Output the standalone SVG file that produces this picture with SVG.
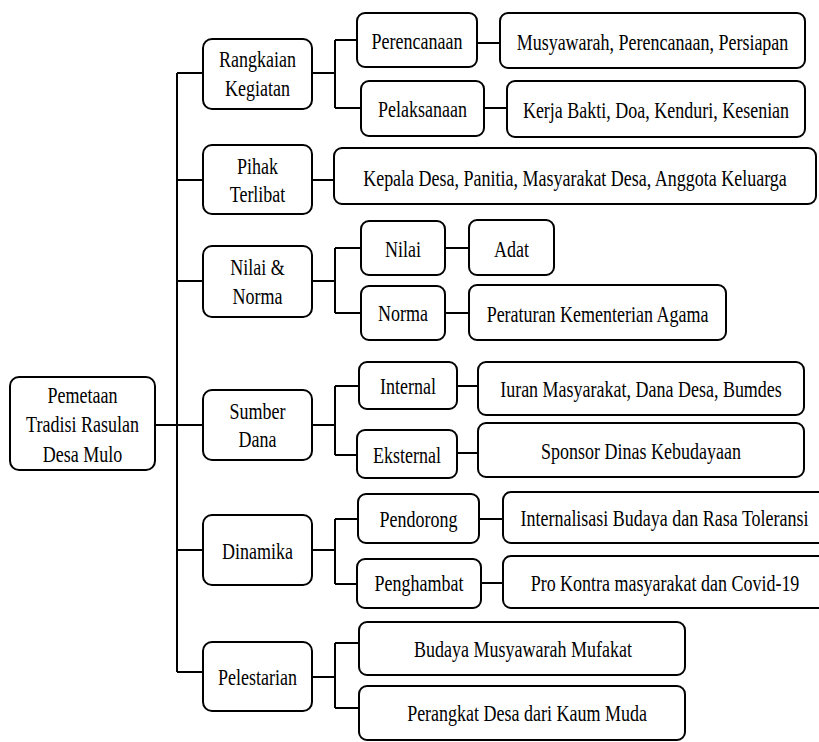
<svg xmlns="http://www.w3.org/2000/svg" width="819" height="742" viewBox="0 0 819 742">
<style>
.b{fill:#fff;stroke:#000;stroke-width:2}
.c{fill:none;stroke:#000;stroke-width:2}
text{font-family:'Liberation Serif','DejaVu Serif',serif;font-size:18px;fill:#000;text-anchor:middle}
</style>
<rect width="819" height="742" fill="#fff"/>
<g id="connectors" class="c">
<path d="M155,425 H203 M177,73 V672 M177,73 H203 M177,180 H203 M177,281 H203 M177,550 H203 M177,672 H203"/>
<path d="M312,73 H335 M335,40 V108 M335,40 H357 M335,108 H361 M477,43 H500 M484,108 H507"/>
<path d="M312,180 H334"/>
<path d="M312,281 H335 M335,248 V313 M335,248 H361 M335,313 H361 M445,248 H469 M445,313 H469"/>
<path d="M312,425 H335 M335,386 V455 M335,386 H359 M335,455 H357 M457,386 H478 M457,453 H478"/>
<path d="M312,550 H335 M335,519 V584 M335,519 H358 M335,584 H357 M479,519 H503 M481,583 H503"/>
<path d="M312,677 H335 M335,643 V708 M335,643 H359 M335,708 H359"/>
</g>
<g font-family="Liberation Serif">
<g id="root"><rect class="b" x="10" y="377" width="145" height="93" rx="9"/><text transform="translate(82.5,403) scale(1,1.3)"><tspan x="0">Pemetaan</tspan><tspan x="0" dy="22.7">Tradisi Rasulan</tspan><tspan x="0" dy="22.7">Desa Mulo</tspan></text></g>
<g id="rangkaian"><rect class="b" x="203" y="39" width="109" height="70" rx="9"/><text transform="translate(257.5,67.3) scale(1,1.3)"><tspan x="0">Rangkaian</tspan><tspan x="0" dy="21.8">Kegiatan</tspan></text></g>
<g id="pihak"><rect class="b" x="203" y="145" width="109" height="69" rx="9"/><text transform="translate(257.5,174) scale(1,1.3)"><tspan x="0">Pihak</tspan><tspan x="0" dy="21.8">Terlibat</tspan></text></g>
<g id="nilainorma"><rect class="b" x="203" y="246" width="109" height="71" rx="9"/><text transform="translate(257.5,275) scale(1,1.3)"><tspan x="0">Nilai &amp;</tspan><tspan x="0" dy="22.3">Norma</tspan></text></g>
<g id="sumber"><rect class="b" x="203" y="390" width="109" height="70" rx="9"/><text transform="translate(257.5,418.5) scale(1,1.3)"><tspan x="0">Sumber</tspan><tspan x="0" dy="22.3">Dana</tspan></text></g>
<g id="dinamika"><rect class="b" x="203" y="515" width="109" height="70" rx="9"/><text transform="translate(257.5,559) scale(1,1.3)">Dinamika</text></g>
<g id="pelestarian"><rect class="b" x="203" y="642" width="109" height="69" rx="9"/><text transform="translate(257.5,685) scale(1,1.3)">Pelestarian</text></g>
<g id="perencanaan"><rect class="b" x="357" y="13" width="120" height="54" rx="8"/><text transform="translate(417,49) scale(1,1.3)">Perencanaan</text></g>
<g id="pelaksanaan"><rect class="b" x="361" y="81" width="123" height="55" rx="8"/><text transform="translate(422.5,117) scale(1,1.3)">Pelaksanaan</text></g>
<g id="musyawarah"><rect class="b" x="500" y="13" width="305" height="55" rx="8"/><text transform="translate(652.5,50) scale(1,1.3)">Musyawarah, Perencanaan, Persiapan</text></g>
<g id="kerja"><rect class="b" x="507" y="81" width="298" height="56" rx="8"/><text transform="translate(656,118) scale(1,1.3)">Kerja Bakti, Doa, Kenduri, Kesenian</text></g>
<g id="kepala"><rect class="b" x="334" y="148" width="482" height="56" rx="8"/><text transform="translate(575,186) scale(1,1.3)">Kepala Desa, Panitia, Masyarakat Desa, Anggota Keluarga</text></g>
<g id="nilai"><rect class="b" x="361" y="221" width="84" height="54" rx="8"/><text transform="translate(403,257) scale(1,1.3)">Nilai</text></g>
<g id="adat"><rect class="b" x="469" y="220" width="85" height="55" rx="8"/><text transform="translate(511.5,257) scale(1,1.3)">Adat</text></g>
<g id="norma"><rect class="b" x="361" y="286" width="84" height="54" rx="8"/><text transform="translate(403,321) scale(1,1.3)">Norma</text></g>
<g id="peraturan"><rect class="b" x="469" y="285" width="257" height="55" rx="8"/><text transform="translate(597.5,322) scale(1,1.3)">Peraturan Kementerian Agama</text></g>
<g id="internal"><rect class="b" x="359" y="362" width="98" height="47" rx="8"/><text transform="translate(408,394) scale(1,1.3)">Internal</text></g>
<g id="iuran"><rect class="b" x="478" y="362" width="326" height="53" rx="8"/><text transform="translate(641,397) scale(1,1.3)">Iuran Masyarakat, Dana Desa, Bumdes</text></g>
<g id="eksternal"><rect class="b" x="357" y="430" width="100" height="48" rx="8"/><text transform="translate(407,463) scale(1,1.3)">Eksternal</text></g>
<g id="sponsor"><rect class="b" x="478" y="423" width="326" height="54" rx="8"/><text transform="translate(641,459) scale(1,1.3)">Sponsor Dinas Kebudayaan</text></g>
<g id="pendorong"><rect class="b" x="358" y="494" width="121" height="49" rx="8"/><text transform="translate(418.5,527) scale(1,1.3)">Pendorong</text></g>
<g id="internalisasi"><rect class="b" x="503" y="492" width="330" height="51" rx="8"/><text transform="translate(664.5,526) scale(1,1.3)">Internalisasi Budaya dan Rasa Toleransi</text></g>
<g id="penghambat"><rect class="b" x="357" y="559" width="124" height="49" rx="8"/><text transform="translate(419,591) scale(1,1.3)">Penghambat</text></g>
<g id="prokontra"><rect class="b" x="503" y="556" width="330" height="52" rx="8"/><text transform="translate(665,591) scale(1,1.3)">Pro Kontra masyarakat dan Covid-19</text></g>
<g id="budaya"><rect class="b" x="359" y="622" width="326" height="53" rx="8"/><text transform="translate(523,657) scale(1,1.3)">Budaya Musyawarah Mufakat</text></g>
<g id="perangkat"><rect class="b" x="359" y="686" width="326" height="54" rx="8"/><text transform="translate(527,721) scale(1,1.3)">Perangkat Desa dari Kaum Muda</text></g>
</g>
</svg>
